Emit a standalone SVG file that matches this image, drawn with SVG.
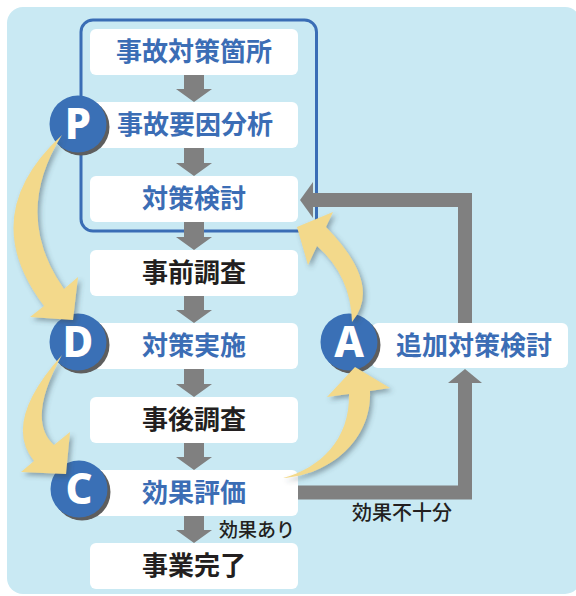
<svg xmlns="http://www.w3.org/2000/svg" width="576" height="596" viewBox="0 0 576 596">
<style>
.box{fill:#ffffff}
.lb{font-family:"Noto Sans CJK JP","Noto Sans",sans-serif;font-size:26px;font-weight:700;text-anchor:middle}
.blue{fill:#3b6db5}
.blk{fill:#231f20}
.sm{font-family:"Noto Sans CJK JP","Noto Sans",sans-serif;font-size:19px;font-weight:500;fill:#231f20}
.gl{fill:none;stroke:#808080;stroke-width:14;stroke-linejoin:miter}
.gh{fill:#808080}
.circ{fill:#3a70b6}
.csh{fill:#5e5e5e}
.let{font-family:"Noto Sans","Liberation Sans",sans-serif;font-size:42px;font-weight:800;fill:#ffffff;text-anchor:middle}
.yel{fill:#f3d98b;filter:url(#ds)}
</style>
<defs>
<filter id="ds" x="-30%" y="-30%" width="160%" height="160%">
<feDropShadow dx="2.5" dy="3" stdDeviation="2.5" flood-color="#3a4a55" flood-opacity="0.45"/>
</filter>
</defs>
<rect x="7" y="7" width="574" height="587" rx="16" fill="#c9e9f3"/>
<rect id="plan-frame" x="81" y="20" width="235.5" height="211" rx="12" fill="none" stroke="#3a6db5" stroke-width="3"/>
<g id="node-jiko-taisaku-kasho"><rect class="box" x="90" y="29" width="208" height="46" rx="6"/><text class="lb blue" x="194" y="61">事故対策箇所</text></g>
<g id="node-jiko-youin-bunseki"><rect class="box" x="90" y="102" width="208" height="46" rx="6"/><text class="lb blue" x="195" y="134">事故要因分析</text></g>
<g id="node-taisaku-kento"><rect class="box" x="90" y="176" width="208" height="46" rx="6"/><text class="lb blue" x="194" y="208">対策検討</text></g>
<g id="node-jizen-chosa"><rect class="box" x="90" y="250" width="208" height="46" rx="6"/><text class="lb blk" x="194" y="282">事前調査</text></g>
<g id="node-taisaku-jisshi"><rect class="box" x="90" y="323" width="208" height="46" rx="6"/><text class="lb blue" x="194" y="355">対策実施</text></g>
<g id="node-jigo-chosa"><rect class="box" x="90" y="397" width="208" height="46" rx="6"/><text class="lb blk" x="194" y="429">事後調査</text></g>
<g id="node-koka-hyoka"><rect class="box" x="90" y="470" width="208" height="46" rx="6"/><text class="lb blue" x="194" y="502">効果評価</text></g>
<g id="node-jigyo-kanryo"><rect class="box" x="90" y="543" width="208" height="46" rx="6"/><text class="lb blk" x="194" y="575">事業完了</text></g>
<g id="node-tsuika-taisaku-kento"><rect class="box" x="372" y="323" width="196" height="45" rx="6"/><text class="lb blue" x="474" y="355">追加対策検討</text></g>
<g id="connectors">
<path class="gh" d="M184 75h20v14h8l-18 13l-18-13h8z"/>
<path class="gh" d="M184 148h20v15h8l-18 13l-18-13h8z"/>
<path class="gh" d="M184 222h20v15h8l-18 13l-18-13h8z"/>
<path class="gh" d="M184 296h20v14h8l-18 13l-18-13h8z"/>
<path class="gh" d="M184 369h20v15h8l-18 13l-18-13h8z"/>
<path class="gh" d="M184 443h20v14h8l-18 13l-18-13h8z"/>
<path class="gh" d="M184 516h20v14h8l-18 13l-18-13h8z"/>
<path class="gl" d="M298 492.5H465V382"/>
<path class="gh" d="M448 383h34l-17-14z"/>
<path class="gl" d="M465 323V200H312"/>
<path class="gh" d="M313 182v36l-13-18z"/>
<text class="sm" x="219" y="537">効果あり</text>
<text class="sm" x="402" y="520" text-anchor="middle" style="font-size:20px">効果不十分</text>
</g>
<g id="phase-P"><circle class="csh" cx="81" cy="127" r="28.5"/><circle class="circ" cx="78" cy="124" r="28.5"/><text class="let" x="78" y="139">P</text></g>
<g id="phase-D"><circle class="csh" cx="81" cy="345" r="28.5"/><circle class="circ" cx="78" cy="342" r="28.5"/><text class="let" x="78" y="357">D</text></g>
<g id="phase-C"><circle class="csh" cx="82" cy="492" r="28.5"/><circle class="circ" cx="79" cy="489" r="28.5"/><text class="let" x="79" y="504">C</text></g>
<g id="phase-A"><circle class="csh" cx="352" cy="345" r="28.5"/><circle class="circ" cx="349" cy="342" r="28.5"/><text class="let" x="349" y="357">A</text></g>
<g id="cycle-arrows">
<path class="yel" d="M62 135Q-25 215 44 306L30 317L73 320L78 277L64 289Q12 215 62 135Z"/>
<path class="yel" d="M62 355Q2 422 34 461L21 472L66 474L70 432L54 445Q26 420 62 355Z"/>
<path class="yel" d="M352 322Q383 285 326 227L333 212L297 227L308 265L317 246Q351 276 352 322Z"/>
<path class="yel" d="M283 478C330 475 372 440 370 391L390 388L355 367L327 397L349 394C350 440 320 468 283 478Z"/>
</g>
</svg>
